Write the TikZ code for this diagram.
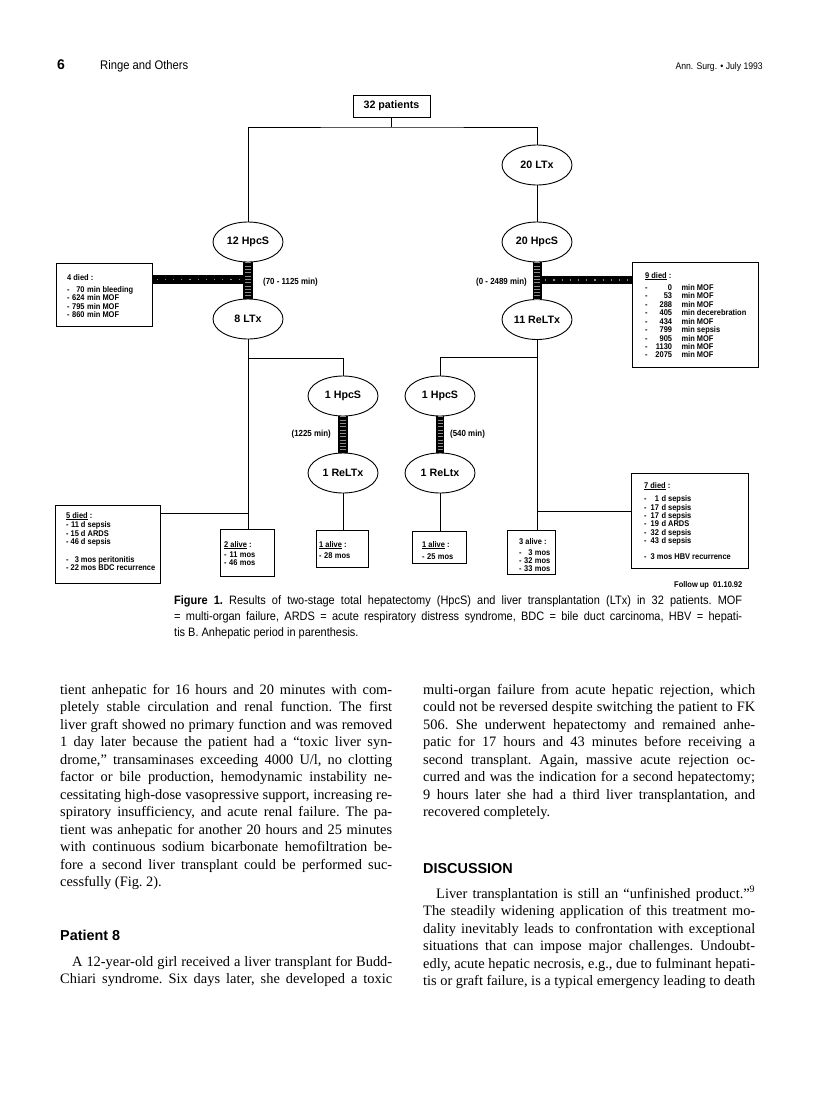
\documentclass[tikz,border=0pt]{standalone}
\usepackage{fontspec}
\setmainfont{Liberation Serif}
\newfontfamily\mySans{Liberation Sans}
\newfontfamily\myNarrow[FakeStretch=0.9]{Liberation Sans}
\usetikzlibrary{shapes.geometric}
\newlength{\colw}\setlength{\colw}{332pt}
\newcommand{\JL}[2][\colw]{\makebox[#1][s]{#2}\par}
\newcommand{\LL}[2][\colw]{\makebox[#1][l]{#2}\par}
\newcommand{\myBody}{\frenchspacing\fontsize{14.4}{17.5}\selectfont}
\newcommand{\myFig}{\mySans\bfseries\fontsize{10.7}{12}\selectfont}
\newcommand{\myBox}{\myNarrow\bfseries\fontsize{8.3}{8.1}\selectfont}
\newcommand{\myCap}{\frenchspacing\myNarrow\fontsize{12.2}{16}\selectfont}
\newcommand{\myHead}{\mySans\bfseries\fontsize{14.4}{16}\selectfont}
\tikzset{
  ell/.style={ellipse, draw, line width=0.9pt, minimum width=70pt, minimum height=40pt, inner sep=0pt, font=\myFig},
  boxst/.style={rectangle, draw, line width=0.9pt, inner sep=0pt},
  conn/.style={line width=0.9pt},
  thickbar/.style={line width=#1, draw=black},
  vticks/.style={line width=#1, draw=black!45, dash pattern=on 0.7pt off 2.6pt},
  hticks/.style={line width=1.6pt, draw=black!45, dash pattern=on 1.2pt off 7pt},
  txt/.style={anchor=base west, inner sep=0pt},
  txte/.style={anchor=base east, inner sep=0pt},
}
\begin{document}
\begin{tikzpicture}[x=1pt,y=-1pt]
\fill[white] (0,0) rectangle (816,1103);
\useasboundingbox (0,0) rectangle (816,1103);

% header
\node[txt, font=\mySans\bfseries\fontsize{14}{14}\selectfont] (pg) at (57,69) {6};
\node[txt, font=\myNarrow\fontsize{12.5}{12}\selectfont] (auth) at (100,69) {Ringe and Others};
\node[txte, font=\myNarrow\fontsize{9.6}{10}\selectfont] (jour) at (763,69) {Ann. Surg. • July 1993};

% tree nodes
\node[boxst, minimum width=77pt, minimum height=22pt, font=\myFig] (p32) at (391.5,106) {32 patients};
\node[ell] (lt20) at (537,165) {20 LTx};
\node[ell] (h12) at (248,242) {12 HpcS};
\node[ell] (h20) at (537,242) {20 HpcS};
\node[ell] (l8) at (248,319) {8 LTx};
\node[ell] (r11) at (537,319.5) {11 ReLTx};
\node[ell] (h1L) at (343,396) {1 HpcS};
\node[ell] (rL1) at (343,473) {1 ReLTx};
\node[ell] (h1R) at (440,396) {1 HpcS};
\node[ell] (rR1) at (440,473) {1 ReLtx};

% boxes
\node[boxst, minimum width=96pt, minimum height=63pt] (d4) at (104,294.5) {};
\node[boxst, minimum width=126pt, minimum height=105pt] (d9) at (695,314.5) {};
\node[boxst, minimum width=105pt, minimum height=78pt] (d5) at (107.5,544) {};
\node[boxst, minimum width=54pt, minimum height=47pt] (a2) at (247,552.5) {};
\node[boxst, minimum width=52pt, minimum height=37pt] (a1L) at (342,548.5) {};
\node[boxst, minimum width=54pt, minimum height=32pt] (a1R) at (439,547) {};
\node[boxst, minimum width=48pt, minimum height=44pt] (a3) at (531,552) {};
\node[boxst, minimum width=117pt, minimum height=95pt] (d7) at (689.5,520.5) {};

% thin connectors
\coordinate (jtop) at (391.5,127);
\draw[conn] (p32.south) -- (jtop);
\draw[conn] (h12.north) |- (jtop) -| (lt20.north);
\draw[conn] (lt20.south) -- (h20.north);
\draw[conn] (l8.south) -- (l8.south |- a2.north);
\coordinate (jl2) at (248,358);
\draw[conn] (jl2) -| (h1L.north);
\coordinate (jl3) at (248,513);
\draw[conn] (jl3) -- (d5.east |- jl3);
\draw[conn] (rL1.south) -- (rL1.south |- a1L.north);
\draw[conn] (r11.south) -- (r11.south |- a3.north);
\coordinate (jr2) at (537,357);
\draw[conn] (jr2) -| (h1R.north);
\coordinate (jr3) at (537,511);
\draw[conn] (jr3) -- (d7.west |- jr3);
\draw[conn] (rR1.south) -- (rR1.south |- a1R.north);

% thick bars (anhepatic periods)
\coordinate (jl1) at (248,279.5);
\draw[thickbar=9pt] (jl1) -- (d4.east |- jl1);
\draw[hticks] (jl1) -- (d4.east |- jl1);
\draw[thickbar=10pt] (h12.south) -- (l8.north);
\draw[vticks=6pt] (h12.south) -- (l8.north);
\coordinate (jr1) at (537,280);
\draw[thickbar=8.5pt] (jr1) -- (d9.west |- jr1);
\draw[hticks] (jr1) -- (d9.west |- jr1);
\draw[thickbar=9pt] (h20.south) -- (r11.north);
\draw[vticks=5.5pt] (h20.south) -- (r11.north);
\draw[thickbar=10pt] (h1L.south) -- (rL1.north);
\draw[vticks=6pt] (h1L.south) -- (rL1.north);
\draw[thickbar=8pt] (h1R.south) -- (rR1.north);
\draw[vticks=5pt] (h1R.south) -- (rR1.north);

% period labels
\node[txt, font=\myNarrow\bfseries\fontsize{8.8}{9}\selectfont] (per1) at (263,284) {(70 - 1125 min)};
\node[txte, font=\myNarrow\bfseries\fontsize{8.8}{9}\selectfont] (per2) at (527,284) {(0 - 2489 min)};
\node[txte, font=\myNarrow\bfseries\fontsize{8.8}{9}\selectfont] (per3) at (331,436) {(1225 min)};
\node[txt, font=\myNarrow\bfseries\fontsize{8.8}{9}\selectfont] (per4) at (450,436) {(540 min)};

% box texts
\node[txt] (d4t) at (67,280) {\myBox\begin{tabular}[t]{@{}l@{\hspace{2.5pt}}r@{\hspace{2.5pt}}l@{}}
\multicolumn{3}{@{}l@{}}{4 died :}\\[3.9pt]
- & 70 & min bleeding\\
- & 624 & min MOF\\
- & 795 & min MOF\\
- & 860 & min MOF
\end{tabular}};

\node[txt] (d9t) at (645,278) {\myBox\begin{tabular}[t]{@{}l@{\hspace{7.8pt}}r@{\hspace{9.5pt}}l@{}}
\multicolumn{3}{@{}l@{}}{\underline{9 died} :}\\[3.9pt]
- & 0 & min MOF\\
- & 53 & min MOF\\
- & 288 & min MOF\\
- & 405 & min decerebration\\
- & 434 & min MOF\\
- & 799 & min sepsis\\
- & 905 & min MOF\\
- & 1130 & min MOF\\
- & 2075 & min MOF
\end{tabular}};

\node[txt] (d5t) at (66,518) {\myBox\begin{tabular}[t]{@{}l@{\hspace{2pt}}r@{\hspace{2pt}}l@{}}
\multicolumn{3}{@{}l@{}}{\underline{5 died} :}\\[1.2pt]
- & 11 & d sepsis\\
- & 15 & d ARDS\\
- & 46 & d sepsis\\[9.5pt]
- & 3 & mos peritonitis\\
- & 22 & mos BDC recurrence
\end{tabular}};

\node[txt] (a2t) at (224,547) {\myBox\begin{tabular}[t]{@{}l@{\hspace{2.5pt}}r@{\hspace{2.5pt}}l@{}}
\multicolumn{3}{@{}l@{}}{\underline{2 alive} :}\\[1.9pt]
- & 11 & mos\\
- & 46 & mos
\end{tabular}};

\node[txt] (a1Lt) at (319,547) {\myBox\begin{tabular}[t]{@{}l@{\hspace{2.5pt}}r@{\hspace{2.5pt}}l@{}}
\multicolumn{3}{@{}l@{}}{\underline{1 alive} :}\\[3.3pt]
- & 28 & mos
\end{tabular}};

\node[txt] (a1Rt) at (422,547) {\myBox\begin{tabular}[t]{@{}l@{\hspace{2.5pt}}r@{\hspace{2.5pt}}l@{}}
\multicolumn{3}{@{}l@{}}{\underline{1 alive} :}\\[3.9pt]
- & 25 & mos
\end{tabular}};

\node[txt] (a3t) at (519,544) {\myBox\begin{tabular}[t]{@{}l@{\hspace{2.5pt}}r@{\hspace{2.5pt}}l@{}}
\multicolumn{3}{@{}l@{}}{3 alive :}\\[3.2pt]
- & 3 & mos\\
- & 32 & mos\\
- & 33 & mos
\end{tabular}};

\node[txt] (d7t) at (644,488) {\myBox\begin{tabular}[t]{@{}l@{\hspace{4pt}}r@{\hspace{2.5pt}}l@{}}
\multicolumn{3}{@{}l@{}}{\underline{7 died} :}\\[5.2pt]
- & 1 & d sepsis\\
- & 17 & d sepsis\\
- & 17 & d sepsis\\
- & 19 & d ARDS\\
- & 32 & d sepsis\\
- & 43 & d sepsis\\[7.6pt]
- & \multicolumn{2}{@{}l@{}}{3 mos HBV recurrence}
\end{tabular}};

\node[txt, font=\myBox] (fup) at (674,587) {Follow up\ \ 01.10.92};

% caption
\node[txt] (cap) at (174,604) {\parbox[t]{568pt}{\myCap
\JL[568pt]{\textbf{Figure 1.} Results of two-stage total hepatectomy (HpcS) and liver transplantation (LTx) in 32 patients. MOF}
\JL[568pt]{= multi-organ failure, ARDS = acute respiratory distress syndrome, BDC = bile duct carcinoma, HBV = hepati-}
\LL[568pt]{tis B. Anhepatic period in parenthesis.}}};

% body text, left column
\node[txt] (bodyL1) at (60,694) {\parbox[t]{\colw}{\myBody
\JL{tient anhepatic for 16 hours and 20 minutes with com-}
\JL{pletely stable circulation and renal function. The first}
\JL{liver graft showed no primary function and was removed}
\JL{1 day later because the patient had a “toxic liver syn-}
\JL{drome,” transaminases exceeding 4000 U/l, no clotting}
\JL{factor or bile production, hemodynamic instability ne-}
\JL{cessitating high-dose vasopressive support, increasing re-}
\JL{spiratory insufficiency, and acute renal failure. The pa-}
\JL{tient was anhepatic for another 20 hours and 25 minutes}
\JL{with continuous sodium bicarbonate hemofiltration be-}
\JL{fore a second liver transplant could be performed suc-}
\LL{cessfully (Fig. 2).}}};

\node[txt, font=\myHead] (hPat) at (60,940) {Patient 8};

\node[txt] (bodyL2) at (60,966) {\parbox[t]{\colw}{\myBody
\JL{\hspace*{12pt}A 12-year-old girl received a liver transplant for Budd-}
\JL{Chiari syndrome. Six days later, she developed a toxic}}};

% body text, right column
\node[txt] (bodyR1) at (423,694) {\parbox[t]{\colw}{\myBody
\JL{multi-organ failure from acute hepatic rejection, which}
\JL{could not be reversed despite switching the patient to FK}
\JL{506. She underwent hepatectomy and remained anhe-}
\JL{patic for 17 hours and 43 minutes before receiving a}
\JL{second transplant. Again, massive acute rejection oc-}
\JL{curred and was the indication for a second hepatectomy;}
\JL{9 hours later she had a third liver transplantation, and}
\LL{recovered completely.}}};

\node[txt, font=\myHead] (hDisc) at (423,873) {DISCUSSION};

\node[txt] (bodyR2) at (423,898) {\parbox[t]{\colw}{\myBody
\JL{\hspace*{13pt}Liver transplantation is still an “unfinished product.”\textsuperscript{9}}
\JL{The steadily widening application of this treatment mo-}
\JL{dality inevitably leads to confrontation with exceptional}
\JL{situations that can impose major challenges. Undoubt-}
\JL{edly, acute hepatic necrosis, e.g., due to fulminant hepati-}
\JL{tis or graft failure, is a typical emergency leading to death}}};
\end{tikzpicture}
\end{document}
